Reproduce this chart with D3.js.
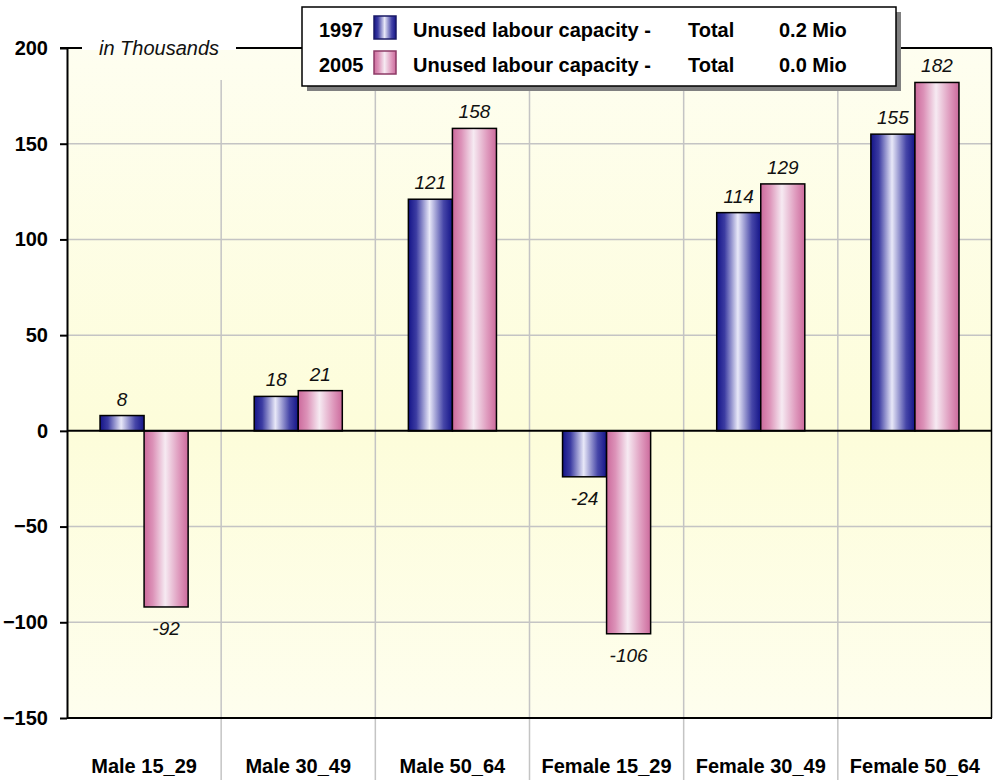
<!DOCTYPE html>
<html>
<head>
<meta charset="utf-8">
<script src="https://cdn.jsdelivr.net/npm/d3@7"></script>
<style>
  body { margin: 0; background: #fff; }
  text { font-family: Arial, "Liberation Sans", sans-serif; }
</style>
</head>
<body>
<div id="chart"></div>
<script>
// data
const categories = ["Male 15_29", "Male 30_49", "Male 50_64", "Female 15_29", "Female 30_49", "Female 50_64"];
const seriesNames = ["1997", "2005"];
const values1997 = [8, 18, 121, -24, 114, 155];
const values2005 = [-92, 21, 158, -106, 129, 182];
const yTicks = [200, 150, 100, 50, 0, -50, -100, -150];
const legendLabel = "Unused labour capacity -";
const legendTotalWord = "Total";
const legendTotals = ["0.2 Mio", "0.0 Mio"];
const unitLabel = "in Thousands";

const w = 993, h = 780;
const plotL = 67, plotR = 992, plotT = 48, plotB = 718;

const svg = d3.select("#chart").append("svg")
  .attr("width", w).attr("height", h);

const defs = svg.append("defs");

// plot background
const bg = defs.append("linearGradient").attr("id", "bg")
  .attr("gradientUnits", "userSpaceOnUse")
  .attr("x1", 0).attr("x2", 0).attr("y1", plotT).attr("y2", plotB);
bg.append("stop").attr("offset", 0).attr("stop-color", "#fefef0");
bg.append("stop").attr("offset", 0.57).attr("stop-color", "#fdfdda");
bg.append("stop").attr("offset", 1).attr("stop-color", "#fefeee");

function barGrad(id, stops) {
  const g = defs.append("linearGradient").attr("id", id)
    .attr("x1", 0).attr("x2", 1).attr("y1", 0).attr("y2", 0);
  stops.forEach(s => g.append("stop").attr("offset", s[0]).attr("stop-color", s[1]));
}
barGrad("g1997", [[0, "#141488"], [0.18, "#3c3ca2"], [0.48, "#e8e8f8"], [0.8, "#4646a8"], [1, "#141488"]]);
barGrad("g2005", [[0, "#cc6a9c"], [0.2, "#dc92b8"], [0.48, "#f6eaf2"], [0.8, "#de98bc"], [1, "#cc6a9c"]]);
const fills = { "1997": "url(#g1997)", "2005": "url(#g2005)" };
const swatchStroke = { "1997": "#1a1a66", "2005": "#8c3a66" };

const x = d3.scaleBand().domain(categories).range([plotL, plotR]).padding(0);
const xs = d3.scaleBand().domain(seriesNames).range([0, x.bandwidth()])
  .paddingInner(0).paddingOuter(0.75);
const y = d3.scaleLinear().domain([-150, 200]).range([plotB, plotT]);

svg.append("rect")
  .attr("x", plotL).attr("y", plotT)
  .attr("width", plotR - plotL).attr("height", plotB - plotT)
  .attr("fill", "url(#bg)");

// horizontal grid
svg.append("g").selectAll("line")
  .data(yTicks.filter(d => d !== 200 && d !== -150 && d !== 0))
  .join("line")
  .attr("x1", plotL).attr("x2", plotR)
  .attr("y1", d => y(d)).attr("y2", d => y(d))
  .attr("stroke", "#c4c4c4").attr("stroke-width", 1.5);

// vertical separators between categories
svg.append("g").selectAll("line")
  .data(categories.slice(1))
  .join("line")
  .attr("x1", d => x(d)).attr("x2", d => x(d))
  .attr("y1", 80).attr("y2", h)
  .attr("stroke", "#c4c4c4").attr("stroke-width", 1.5);

// bars
const rows = [];
categories.forEach((c, i) => {
  rows.push({ cat: c, s: "1997", v: values1997[i] });
  rows.push({ cat: c, s: "2005", v: values2005[i] });
});

svg.append("g").selectAll("rect")
  .data(rows)
  .join("rect")
  .attr("x", d => x(d.cat) + xs(d.s))
  .attr("y", d => y(Math.max(0, d.v)))
  .attr("width", xs.bandwidth())
  .attr("height", d => Math.abs(y(d.v) - y(0)))
  .attr("fill", d => fills[d.s])
  .attr("stroke", "#000").attr("stroke-width", 1.5);

// value labels
svg.append("g").selectAll("text")
  .data(rows)
  .join("text")
  .attr("x", d => x(d.cat) + xs(d.s) + xs.bandwidth() / 2)
  .attr("y", d => d.v >= 0 ? y(d.v) - 10 : y(d.v) + 28)
  .attr("text-anchor", "middle")
  .style("font-style", "italic")
  .style("font-size", "19px")
  .attr("fill", "#111")
  .text(d => d.v);

// zero line
svg.append("line")
  .attr("x1", plotL).attr("x2", plotR)
  .attr("y1", y(0)).attr("y2", y(0))
  .attr("stroke", "#000").attr("stroke-width", 2);

// frame
svg.append("line").attr("x1", plotL - 7).attr("x2", plotR)
  .attr("y1", plotT).attr("y2", plotT).attr("stroke", "#000").attr("stroke-width", 2);
svg.append("line").attr("x1", plotR - 0.5).attr("x2", plotR - 0.5)
  .attr("y1", plotT).attr("y2", plotB).attr("stroke", "#000").attr("stroke-width", 1.5);
svg.append("line").attr("x1", plotL).attr("x2", plotR)
  .attr("y1", plotB).attr("y2", plotB).attr("stroke", "#000").attr("stroke-width", 2);

// y axis
const yAxis = d3.axisLeft(y).tickValues(yTicks).tickSize(7).tickPadding(12).tickSizeOuter(0);
const gy = svg.append("g").attr("transform", `translate(${plotL},0)`).call(yAxis);
gy.select(".domain").attr("stroke", "#000").attr("stroke-width", 2);
gy.selectAll(".tick line").attr("stroke", "#000").attr("stroke-width", 2);
gy.selectAll(".tick text")
  .style("font-family", "Arial, 'Liberation Sans', sans-serif")
  .style("font-size", "20px").style("font-weight", "bold")
  .attr("fill", "#000");

// unit label over the top frame line
svg.append("rect").attr("x", 82).attr("y", plotT - 4).attr("width", 154).attr("height", 6).attr("fill", "#fff");
svg.append("text").attr("x", 99).attr("y", 55)
  .style("font-style", "italic").style("font-size", "20px")
  .attr("fill", "#111").text(unitLabel);

// x labels
svg.append("g").selectAll("text")
  .data(categories)
  .join("text")
  .attr("x", d => x(d) + x.bandwidth() / 2)
  .attr("y", 773)
  .attr("text-anchor", "middle")
  .style("font-size", "20px").style("font-weight", "bold")
  .attr("fill", "#000")
  .text(d => d);

// legend
const lg = svg.append("g");
lg.append("rect").attr("x", 307).attr("y", 12).attr("width", 594).attr("height", 79).attr("fill", "#808080");
lg.append("rect").attr("x", 302).attr("y", 7).attr("width", 594).attr("height", 79)
  .attr("fill", "#fff").attr("stroke", "#000").attr("stroke-width", 1.5);
const legendRows = lg.selectAll("g.row")
  .data(seriesNames)
  .join("g").attr("class", "row")
  .attr("transform", (d, i) => `translate(0,${i * 35})`);
legendRows.append("rect")
  .attr("x", 374).attr("y", 16).attr("width", 22).attr("height", 23)
  .attr("fill", d => fills[d]).attr("stroke", d => swatchStroke[d]).attr("stroke-width", 1.5);
const lt = (xx, fn) => legendRows.append("text").attr("x", xx).attr("y", 37)
  .style("font-size", "20px").style("font-weight", "bold").attr("fill", "#000").text(fn);
lt(319, d => d);
lt(413, () => legendLabel);
lt(688, () => legendTotalWord);
lt(779, (d, i) => legendTotals[i]);
</script>
</body>
</html>
